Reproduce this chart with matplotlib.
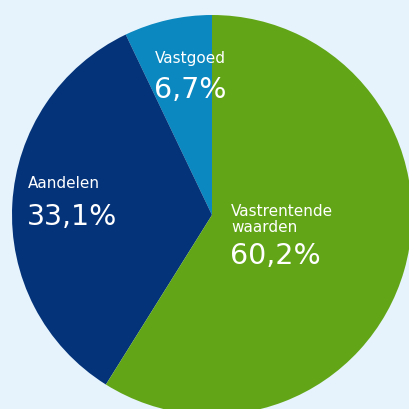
import matplotlib.pyplot as plt

# slice shares as drawn, and the labels printed on them
categories = ['Vastgoed', 'Aandelen', 'Vastrentende\nwaarden']
shares = [7.1, 34.0, 58.9]
pct_labels = ['6,7%', '33,1%', '60,2%']
colors = ['#0a88bf', '#04337a', '#62a617']

bg = '#e6f3fc'
H = 409

fig = plt.figure(figsize=(4.09, 4.09), dpi=100, facecolor=bg)
ax = fig.add_axes([0, 0, 1, 1])
ax.set_facecolor(bg)

ax.pie(shares, colors=colors, startangle=90, counterclock=True,
       center=(212, H - 215), radius=200,
       wedgeprops=dict(linewidth=0))
ax.set_xlim(0, H)
ax.set_ylim(0, H)
ax.set_aspect('equal')
ax.axis('off')

# label anchors in pixel coords (left, baseline of first name line, baseline of pct)
name_pos = [(155, 63), (28, 188), (231, 216)]
pct_pos = [(154, 98), (27, 225), (230, 264)]

for name, pct, (nx, ny), (px, py) in zip(categories, pct_labels, name_pos, pct_pos):
    for i, line in enumerate(name.split('\n')):
        ax.text(nx, H - ny - 15.5 * i, line, color='white', fontsize=11,
                family='DejaVu Sans', ha='left', va='baseline')
    ax.text(px, H - py, pct, color='white', fontsize=20.5, family='DejaVu Sans',
            ha='left', va='baseline')

fig.savefig('out.png', dpi=100, facecolor=bg)
